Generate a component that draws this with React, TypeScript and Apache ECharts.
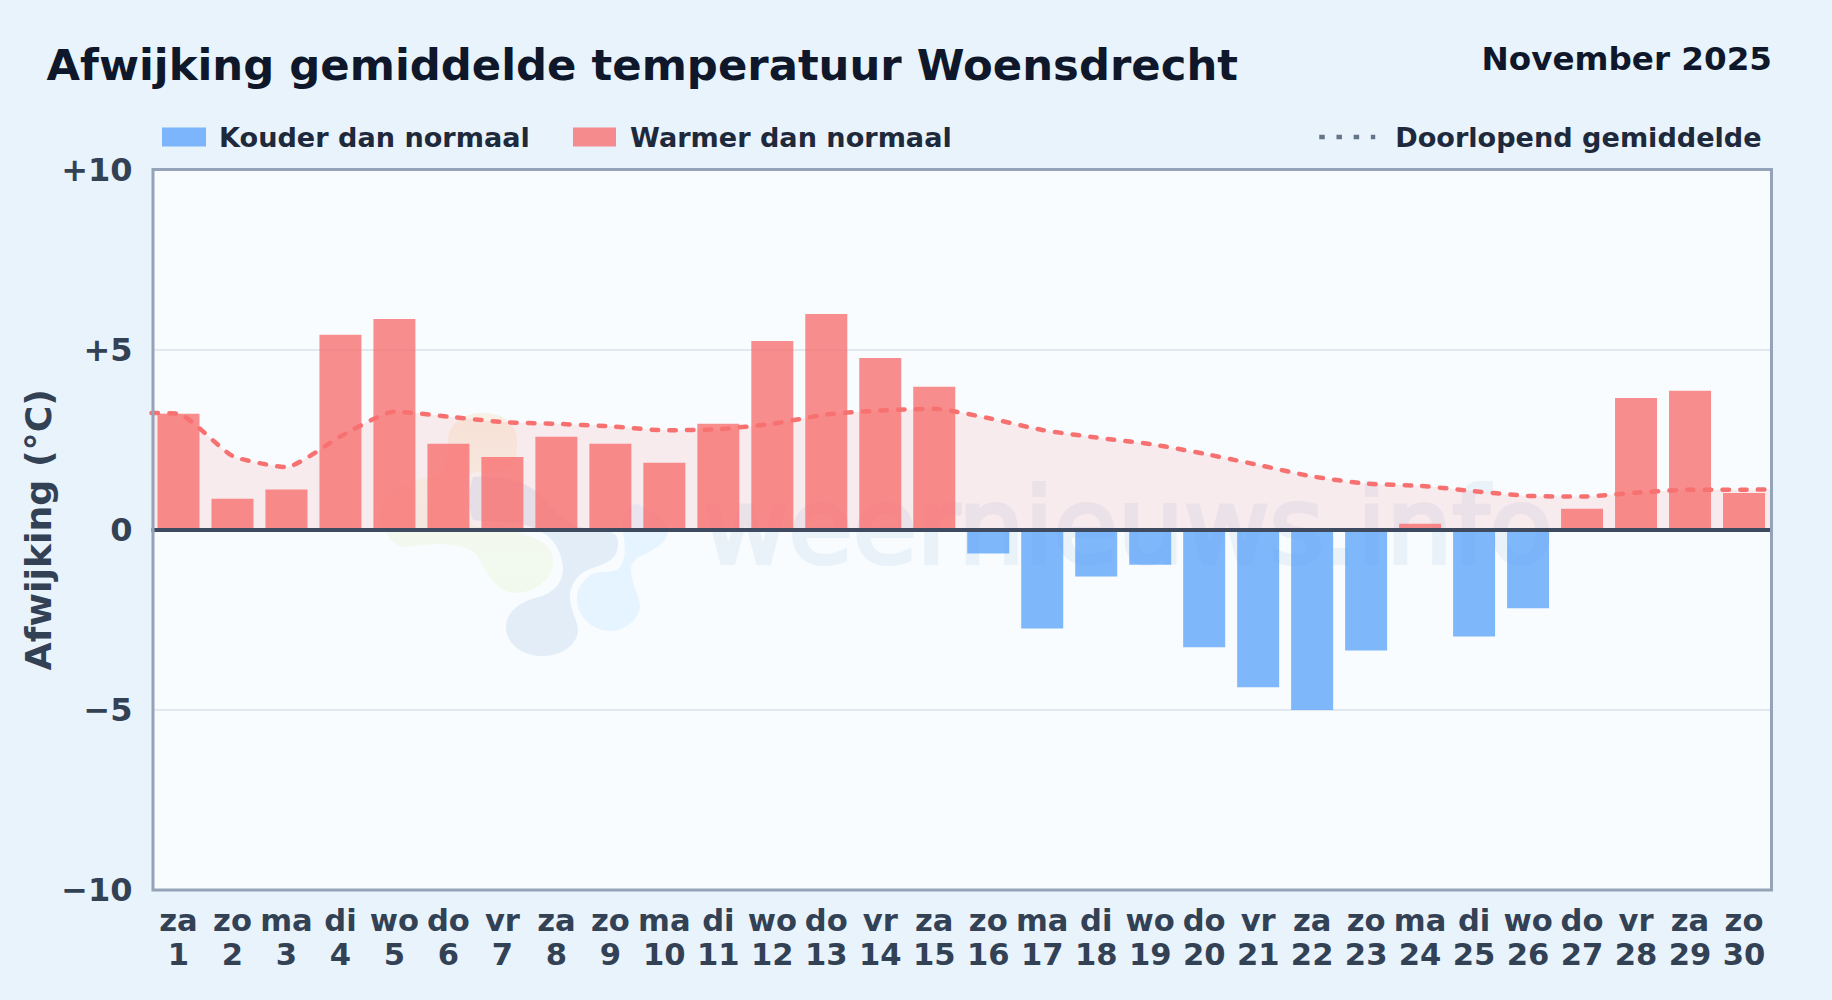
import React, { useEffect, useRef } from "react";
import * as echarts from "echarts";

const titleText = "Afwijking gemiddelde temperatuur Woensdrecht";
const periodText = "November 2025";
const yAxisTitle = "Afwijking (°C)";
const coldName = "Kouder dan normaal";
const warmName = "Warmer dan normaal";
const meanName = "Doorlopend gemiddelde";
const watermarkText = "weernieuws.info";

const weekdays = ["za","zo","ma","di","wo","do","vr","za","zo","ma","di","wo","do","vr","za","zo","ma","di","wo","do","vr","za","zo","ma","di","wo","do","vr","za","zo"];
const days = ["1","2","3","4","5","6","7","8","9","10","11","12","13","14","15","16","17","18","19","20","21","22","23","24","25","26","27","28","29","30"];
const anomalies = [3.22,0.86,1.12,5.41,5.85,2.39,2.02,2.58,2.39,1.86,2.94,5.24,5.99,4.77,3.97,-0.66,-2.74,-1.3,-0.97,-3.26,-4.37,-5.0,-3.35,0.17,-2.96,-2.18,0.58,3.66,3.86,1.02];
const runningMean = [3.22,2.05,1.74,2.59,3.28,3.14,2.99,2.94,2.87,2.76,2.79,2.94,3.2,3.31,3.36,3.1,2.77,2.56,2.38,2.11,1.8,1.48,1.28,1.22,1.07,0.94,0.92,1.03,1.11,1.11];
const runningMeanStart = 3.24;
const runningMeanEnd = 1.12;
const yTickLabels: Record<string, string> = { "10": "+10", "5": "+5", "0": "0", "-5": "−5", "-10": "−10" };

const FONT = "DejaVu Sans";

const BLOB_WARM = "M483 413 C 505 413 517 425 517 440 C 518 455 515 465 505 470 C 485 472 470 470 465 478 C 462 495 460 515 468 524 C 485 530 510 528 525 535 C 545 540 554 550 553 563 C 552 580 535 593 513 593 C 500 592 490 580 480 560 C 475 550 467 547 450 545 C 430 542 415 547 403 547 C 390 545 380 525 380 513 C 385 490 410 480 430 478 C 445 475 448 460 448 440 C 448 425 462 413 483 413 Z";
const BLOB_DARK = "M473 477 C 500 475 525 480 540 495 C 555 510 565 525 585 528 C 605 530 620 530 618 545 C 617 558 610 562 593 568 C 578 572 570 585 570 597 C 570 610 578 620 578 632 C 575 648 558 656 542 656 C 520 656 506 642 506 627 C 506 612 520 602 535 598 C 552 594 563 585 563 567 C 560 545 550 530 517 523 C 495 520 480 522 473 520 C 468 510 468 490 473 477 Z";
const BLOB_LIGHT = "M623 533 C 622 515 628 500 640 505 C 655 515 668 520 668 533 C 665 545 650 552 637 558 C 630 565 630 570 632 577 C 634 590 640 597 640 607 C 638 620 625 631 610 631 C 595 631 582 620 578 607 C 575 595 578 585 590 575 C 600 570 610 573 617 570 C 626 563 626 548 623 533 Z";

echarts.graphic.registerShape("wmWarm", echarts.graphic.extendPath(BLOB_WARM, {}));
echarts.graphic.registerShape("wmDark", echarts.graphic.extendPath(BLOB_DARK, {}));
echarts.graphic.registerShape("wmLight", echarts.graphic.extendPath(BLOB_LIGHT, {}));

export default function App() {
  const ref = useRef<HTMLDivElement>(null);
  useEffect(() => {
    document.body.style.margin = "0";
    const chart = echarts.init(ref.current!, undefined, { renderer: "svg" });
    const n = anomalies.length;
    const linePts: [number, number][] = [[0, runningMeanStart]];
    runningMean.forEach((v, i) => linePts.push([i + 0.5, v]));
    linePts.push([n, runningMeanEnd]);
    chart.setOption({
      animation: false,
      backgroundColor: "#e8f3fc",
      textStyle: { fontFamily: FONT },
      title: [
        { text: titleText, left: 41.5, top: 38, padding: [5, 5, 5, 5], textStyle: { fontFamily: FONT, fontWeight: "bold", fontSize: 43.35, color: "#0f172a" } },
        { text: periodText, right: 55, top: 37, textStyle: { fontFamily: FONT, fontWeight: "bold", fontSize: 32.6, color: "#0f172a" } },
      ],
      legend: [
        {
          data: [{ name: coldName, icon: "rect" }], left: 162, top: 123.5, padding: 0, selectedMode: false,
          itemWidth: 44, itemHeight: 19,
          textStyle: { fontFamily: FONT, fontWeight: "bold", fontSize: 27.1, color: "#1e293b", padding: [0, 0, 0, 8] },
        },
        {
          data: [{ name: warmName, icon: "rect" }], left: 573, top: 123.5, padding: 0, selectedMode: false,
          itemWidth: 43, itemHeight: 19,
          textStyle: { fontFamily: FONT, fontWeight: "bold", fontSize: 27.1, color: "#1e293b", padding: [0, 0, 0, 9] },
        },
        {
          data: [{ name: meanName, itemStyle: { opacity: 0 }, lineStyle: { color: "#64748b", width: 4.5, type: [5.5, 11.7], cap: "butt", opacity: 1 } }],
          left: 1317, top: 123.5, padding: 0, selectedMode: false,
          itemWidth: 56, itemHeight: 19,
          textStyle: { fontFamily: FONT, fontWeight: "bold", fontSize: 27.1, color: "#1e293b", padding: [0, 0, 0, 15] },
        },
      ],
      grid: { left: 151.5, top: 169.5, width: 1619.5, height: 720.5, containLabel: false },
      xAxis: [
        {
          type: "category",
          data: weekdays.map((w, i) => `${w}\n${days[i]}`),
          axisLine: { show: false, onZero: false },
          axisTick: { show: false },
          splitLine: { show: false },
          axisLabel: {
            interval: 0, margin: 13.5, fontFamily: FONT, fontWeight: "bold", fontSize: 30.6, lineHeight: 34, color: "#334155",
          },
        },
        { type: "value", min: 0, max: n, show: false, splitLine: { show: false } },
      ],
      yAxis: {
        type: "value",
        min: -10,
        max: 10,
        interval: 5,
        name: yAxisTitle,
        nameLocation: "middle",
        nameGap: 95,
        nameMoveOverlap: false,
        nameRotate: 90,
        nameTextStyle: { fontFamily: FONT, fontWeight: "bold", fontSize: 36.3, color: "#334155" },
        axisLine: { show: false },
        axisTick: { show: false },
        splitLine: { show: true, lineStyle: { color: "#e2e8f0", width: 2 } },
        axisLabel: {
          margin: 19, fontFamily: FONT, fontWeight: "bold", fontSize: 32, color: "#334155",
          formatter: (v: number) => yTickLabels[String(v)] ?? String(v),
        },
      },
      graphic: [
        { type: "rect", z: -10, silent: true, shape: { x: 153, y: 169.5, width: 1618.5, height: 720.5 }, style: { fill: "#f8fcff" } },
        {
          type: "wmWarm", z: -9, silent: true,
          style: {
            fill: new echarts.graphic.LinearGradient(0, 0, 0, 1, [
              { offset: 0, color: "rgba(245,180,90,0.16)" },
              { offset: 0.45, color: "rgba(220,215,120,0.12)" },
              { offset: 1, color: "rgba(190,230,110,0.12)" },
            ]),
          },
        },
        { type: "wmDark", z: -9, silent: true, style: { fill: "rgba(45,110,180,0.1)" } },
        { type: "wmLight", z: -9, silent: true, style: { fill: "rgba(60,170,250,0.09)" } },
        {
          type: "text", z: -9, silent: true, x: 703, y: 579,
          style: { text: watermarkText, fontFamily: FONT, fontSize: 104.5, fill: "#e9f1f9", stroke: "#e9f1f9", lineWidth: 4, verticalAlign: "bottom" },
        },
        { type: "rect", z: 50, silent: true, shape: { x: 153, y: 169.5, width: 1618.5, height: 720.5 }, style: { fill: "none", stroke: "#94a3b8", lineWidth: 3 } },
      ],
      series: [
        {
          name: coldName, type: "bar", barWidth: 42, barGap: "-100%",
          itemStyle: { color: "rgba(96,165,250,0.8)" }, z: 4,
          data: anomalies.map((v) => (v < 0 ? v : null)),
        },
        {
          name: warmName, type: "bar", barWidth: 42, barGap: "-100%",
          itemStyle: { color: "rgba(248,113,113,0.8)" }, z: 4,
          data: anomalies.map((v) => (v >= 0 ? v : null)),
          markLine: {
            silent: true, symbol: "none", z: 20, animation: false,
            label: { show: false },
            lineStyle: { color: "#3d4a5f", width: 4, type: "solid" },
            data: [{ yAxis: 0 }],
          },
        },
        {
          name: meanName, type: "line", xAxisIndex: 1, smooth: 0.18, symbol: "none", z: 6, clip: true,
          lineStyle: { color: "#f87171", width: 4.5, type: [6.5, 11.2], cap: "round" },
          itemStyle: { color: "#f87171" },
          areaStyle: { color: "rgba(255,110,110,0.17)", origin: 0 },
          data: linePts,
        },
      ],
    });
    return () => chart.dispose();
  }, []);
  return <div ref={ref} style={{ width: 1832, height: 1000 }} />;
}
